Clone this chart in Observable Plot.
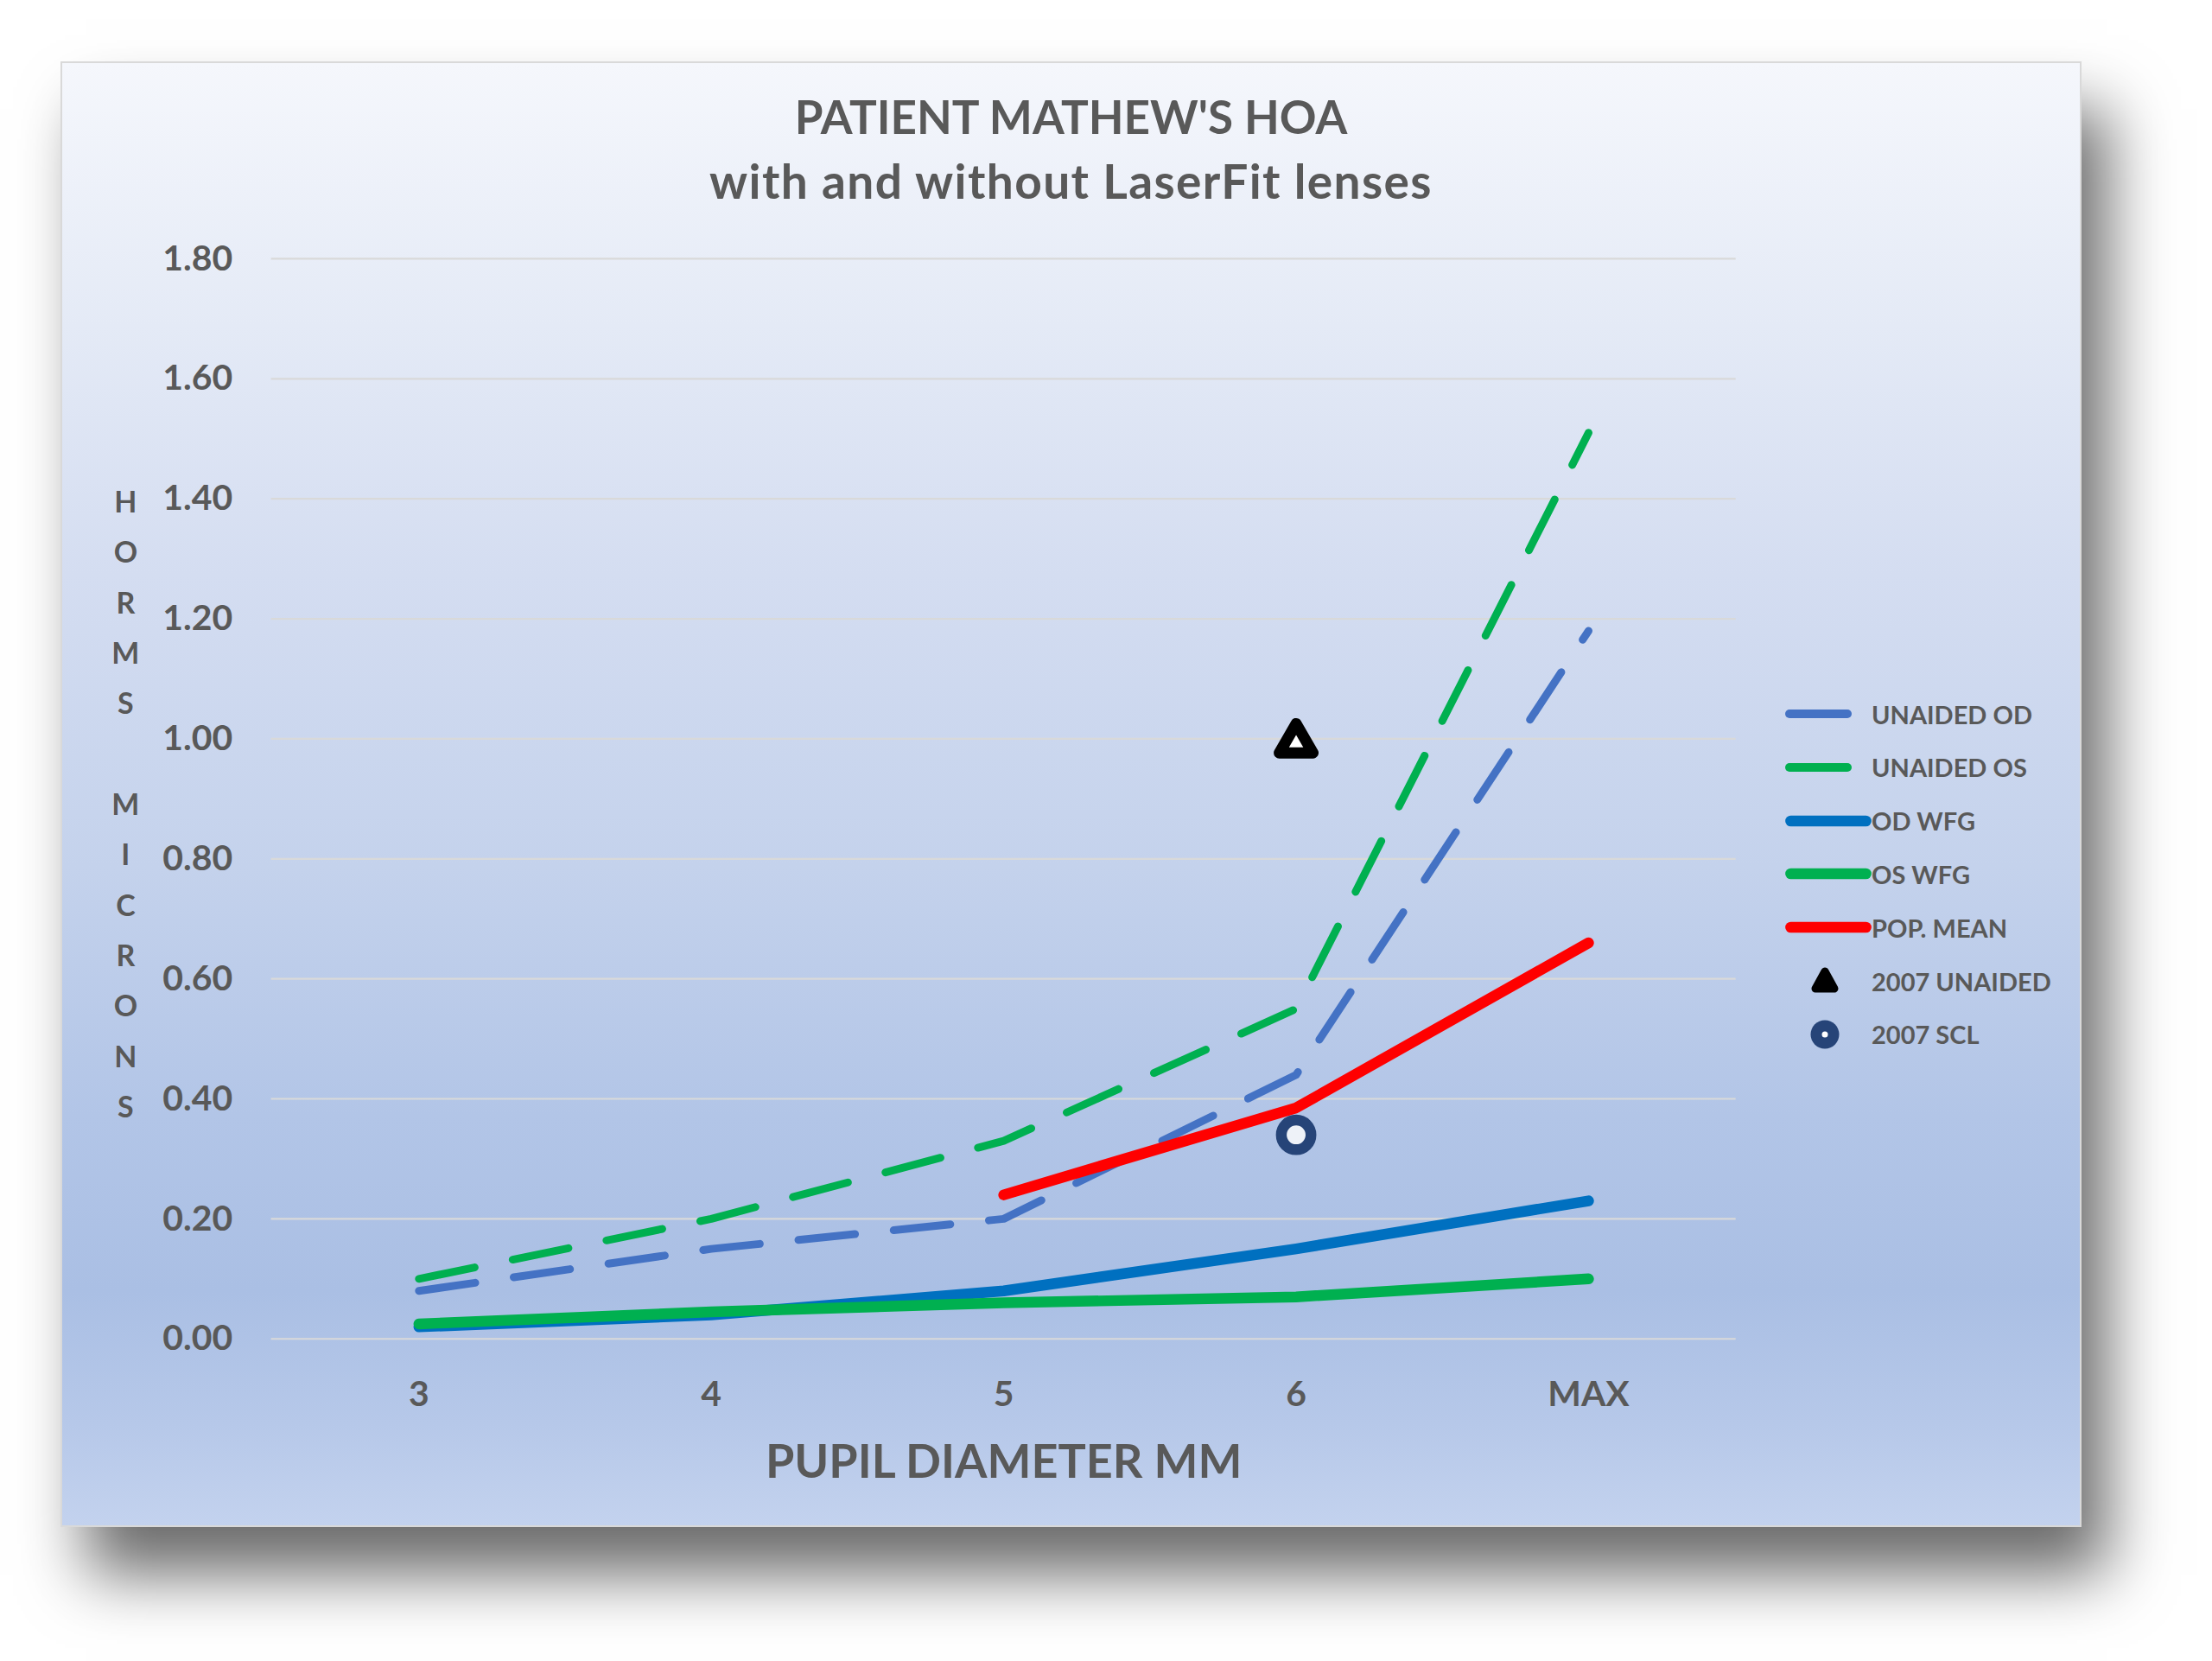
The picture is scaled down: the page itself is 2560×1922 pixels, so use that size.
<!DOCTYPE html>
<html>
<head>
<meta charset="utf-8">
<script src="https://cdn.jsdelivr.net/npm/d3@7"></script>
<script src="https://cdn.jsdelivr.net/npm/@observablehq/plot@0.6"></script>
<style>
  html, body { margin: 0; padding: 0; background: #ffffff; }
  body { width: 2560px; height: 1922px; position: relative; overflow: hidden; font-family: Lato, "Open Sans", sans-serif; }
  #card {
    position: absolute; left: 70px; top: 71px; width: 2339px; height: 1696px;
    box-sizing: border-box; border: 2px solid #d9d9d9;
    background: linear-gradient(to bottom, #f5f7fc 0%, #e4eaf6 18%, #d4ddf1 35%, #c4d2ec 55%, #b2c5e7 72%, #aabfe4 84%, #b6c8e9 93%, #c3d2ee 100%);
    box-shadow: 30px 55px 70px rgba(0,0,0,0.58);
  }
  #title {
    position: absolute; left: 0; top: 25px; width: 100%; text-align: center;
    font-family: Lato, sans-serif; font-weight: 700; font-size: 53px; line-height: 74px; color: #595959;
  }
  #title .sub { font-size: 55px; letter-spacing: 1.4px; }
  #chart { position: absolute; left: 0; top: 180px; }
  #legend { position: absolute; left: 1994px; top: 0; }
  .row { position: absolute; left: 0; height: 62px; display: flex; align-items: center; white-space: nowrap; }
  .row svg { display: block; flex: none; }
  .row span { font-family: Lato, sans-serif; font-weight: 700; font-size: 29px; color: #595959; }
</style>
</head>
<body>
<div id="card">
  <div id="title"><div>PATIENT MATHEW'S HOA</div><div class="sub">with and without LaserFit lenses</div></div>
  <div id="chart"></div>
  <div id="legend"></div>
</div>
<script>
// ---- data ----
const diameters = ["3", "4", "5", "6", "MAX"];
const unaidedOD = [0.08, 0.15, 0.20, 0.44, 1.18];
const unaidedOS = [0.10, 0.20, 0.33, 0.55, 1.51];
const odWFG     = [0.02, 0.04, 0.08, 0.15, 0.23];
const osWFG     = [0.025, 0.045, 0.06, 0.07, 0.10];
const popMean   = [null, null, 0.24, 0.385, 0.66];
const unaided2007 = [{d: "6", v: 1.00}];
const scl2007     = [{d: "6", v: 0.34}];
const yTicks = [0, 0.2, 0.4, 0.6, 0.8, 1.0, 1.2, 1.4, 1.6, 1.8];
const seriesNames = ["UNAIDED OD", "UNAIDED OS", "OD WFG", "OS WFG", "POP. MEAN", "2007 UNAIDED", "2007 SCL"];
const xTitle = "PUPIL DIAMETER MM";
const yTitle = "HORMS MICRONS";

// ---- styles ----
const colors = {
  "UNAIDED OD": "#4472c4",
  "UNAIDED OS": "#00b050",
  "OD WFG": "#0070c0",
  "OS WFG": "#00b050",
  "POP. MEAN": "#ff0000"
};

const toRows = (arr) => diameters.map((d, i) => ({d, v: arr[i]}));

const dashed = {strokeWidth: 9, strokeDasharray: "66,45", strokeLinecap: "round", strokeLinejoin: "round"};
const solid = {strokeWidth: 12.5, strokeLinecap: "round", strokeLinejoin: "round"};

// vertical stacked title: each word letter per line, blank line between words
const yTitleStacked = yTitle.split(" ").map(w => w.split("").join("\n")).join("\n\n");

const plot = Plot.plot({
  width: 2339,
  height: 1500,
  marginLeft: 242,
  marginRight: 399,
  marginTop: 46,
  marginBottom: 202,
  style: "background: transparent; overflow: visible; font-family: Lato, sans-serif; font-weight: 700; color: #595959;",
  x: {type: "point", domain: diameters, padding: 0.5},
  y: {domain: [0, 1.8]},
  marks: [
    Plot.ruleY(yTicks, {stroke: "#d9d9d9", strokeWidth: 2.2}),
    Plot.axisY({ticks: yTicks, tickFormat: d => d.toFixed(2), tickSize: 0, tickPadding: 45, fontSize: 41, label: null}),
    Plot.axisX({tickSize: 0, tickPadding: 49, fontSize: 41, label: null}),
    Plot.line(toRows(unaidedOD), {x: "d", y: "v", stroke: colors["UNAIDED OD"], ...dashed}),
    Plot.line(toRows(unaidedOS), {x: "d", y: "v", stroke: colors["UNAIDED OS"], ...dashed}),
    Plot.line(toRows(odWFG), {x: "d", y: "v", stroke: colors["OD WFG"], ...solid}),
    Plot.line(toRows(osWFG), {x: "d", y: "v", stroke: colors["OS WFG"], ...solid}),
    Plot.line(toRows(popMean), {x: "d", y: "v", stroke: colors["POP. MEAN"], ...solid}),
    Plot.dot(unaided2007, {x: "d", y: "v", symbol: "triangle", r: 14.5, fill: "#ffffff", stroke: "#000000", strokeWidth: 13, strokeLinejoin: "round", dy: 5}),
    Plot.dot(scl2007, {x: "d", y: "v", r: 17.2, fill: "#eef2f8", stroke: "#264478", strokeWidth: 12.5}),
    Plot.text([yTitleStacked], {text: d => d, frameAnchor: "left", dx: -169, textAnchor: "middle", lineHeight: 1.718, fontSize: 34}),
    Plot.text([xTitle], {text: d => d, frameAnchor: "bottom", dy: 161, lineAnchor: "bottom", fontSize: 54})
  ]
});
document.getElementById("chart").appendChild(plot);

// ---- legend ----
const legend = document.getElementById("legend");
const rowCenters0 = 753, rowStep = 61.8;
const ns = "http://www.w3.org/2000/svg";
seriesNames.forEach((name, i) => {
  const row = document.createElement("div");
  row.className = "row";
  row.style.top = (rowCenters0 + i * rowStep - 31) + "px";
  const svg = document.createElementNS(ns, "svg");
  svg.setAttribute("width", 100);
  svg.setAttribute("height", 62);
  let el;
  if (i < 2) {
    el = document.createElementNS(ns, "line");
    el.setAttribute("x1", 5); el.setAttribute("x2", 72);
    el.setAttribute("y1", 31); el.setAttribute("y2", 31);
    el.setAttribute("stroke", colors[name]); el.setAttribute("stroke-width", 10);
    el.setAttribute("stroke-linecap", "round");
  } else if (i < 5) {
    el = document.createElementNS(ns, "line");
    el.setAttribute("x1", 6.5); el.setAttribute("x2", 93.5);
    el.setAttribute("y1", 31); el.setAttribute("y2", 31);
    el.setAttribute("stroke", colors[name]); el.setAttribute("stroke-width", 12.7);
    el.setAttribute("stroke-linecap", "round");
  } else if (i === 5) {
    el = document.createElementNS(ns, "path");
    el.setAttribute("d", "M46,20 L57,40 L35,40 Z");
    el.setAttribute("fill", "#000000"); el.setAttribute("stroke", "#000000");
    el.setAttribute("stroke-width", 9); el.setAttribute("stroke-linejoin", "round");
  } else {
    el = document.createElementNS(ns, "g");
    const c1 = document.createElementNS(ns, "circle");
    c1.setAttribute("cx", 46); c1.setAttribute("cy", 31); c1.setAttribute("r", 16.5);
    c1.setAttribute("fill", "#264478");
    const c2 = document.createElementNS(ns, "circle");
    c2.setAttribute("cx", 46); c2.setAttribute("cy", 31); c2.setAttribute("r", 3.5);
    c2.setAttribute("fill", "#ffffff");
    el.appendChild(c1); el.appendChild(c2);
  }
  svg.appendChild(el);
  row.appendChild(svg);
  const span = document.createElement("span");
  span.textContent = name;
  row.appendChild(span);
  legend.appendChild(row);
});
</script>
</body>
</html>
